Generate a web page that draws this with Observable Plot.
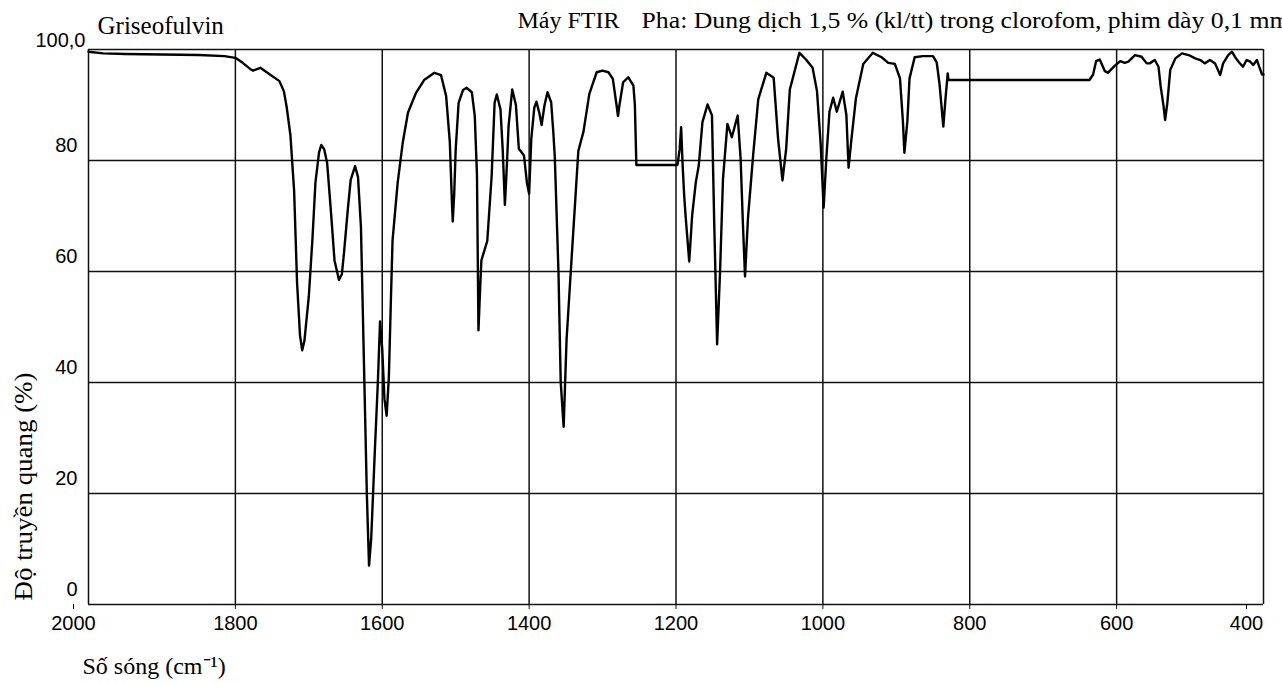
<!DOCTYPE html>
<html>
<head>
<meta charset="utf-8">
<script src="https://cdn.jsdelivr.net/npm/d3@7"></script>
<script src="https://cdn.jsdelivr.net/npm/@observablehq/plot@0.6"></script>
<style>
  html, body { margin: 0; padding: 0; background: #fff; overflow: hidden; }
  #chart svg { display: block; }
</style>
</head>
<body>
<div id="chart"></div>
<script>
// Wavenumber (cm-1), high to low
const wavenumber = [
  2000,1980,1950,1900,1850,1815,1800,1790,1780,1776,1766,1752,1740,1734,1730,1725,1720,1716,1712,1709,
  1706,1700,1695,1691,1686,1683,1679,1675,1670,1665,1659,1655,1652,1647,1643,1637,1633,1629,1625,1621,
  1618,1615,1610,1606,1603,1600,1597,1594,1591,1588,1586,1579,1572,1565,1554,1543,1529,1520,1513,1508,
  1505,1504,1502,1500,1496,1490,1485,1478,1474,1471,1469,1467,1465,1457,1451,1447,1444,1439,1436,1433,
  1430,1428,1423,1418,1414,1407,1403,1400,1397,1393,1390,1386,1383,1379,1375,1370,1367,1365,1360,1357,
  1353,1349,1342,1333,1326,1318,1308,1300,1292,1286,1281,1279,1277,1272,1265,1258,1256,1254,1198,1195,
  1193,1191,1189,1187,1182,1178,1173,1169,1164,1157,1151,1148,1144,1140,1136,1130,1124,1116,1112,1109,
  1106,1102,1095,1088,1077,1067,1061,1055,1050,1045,1032,1023,1014,1008,1003,999,995,991,986,981,
  973,968,965,961,955,945,932,920,911,902,895,891,889,885,882,875,864,850,845,841,
  836,833,830,829,637,632,628,623,616,612,603,595,589,584,575,566,559,555,548,543,
  540,536,534,531,527,520,511,502,493,486,480,473,466,459,455,448,443,439,434,428,
  423,418,414,409,405,402,400
];
// Transmittance (%) at each wavenumber
const transmittance = [
  99.6,99.3,99.2,99.1,99.0,98.8,98.5,97.6,96.5,96.2,96.7,95.4,94.3,92.5,89.5,84.5,74.5,58,48.5,45.8,
  47.5,55.5,66,76,81.5,82.8,82,79.5,71,62,58.5,59.5,63.5,71,76.5,79,77,68,44,20,
  7,12,28,40,51,46,37,34,41,56,65.5,76,83.3,88.6,92.2,94.5,95.8,95.4,91.6,83.3,
  72,69,74,82,90.4,92.7,93.1,92.3,88,77.3,49.4,56,62,65.5,77.3,90.4,91.9,89.2,82,72,
  80,86.2,92.8,90,82.1,80.9,76,74,84,89.5,90.6,88.5,86.4,90,92.3,90.5,85,80.5,59.7,40.1,
  32,47.8,62.7,81.7,85.2,92,95.9,96.2,95.9,94.7,90,88,90,94.1,95,93.5,90,79.2,79.2,82,
  86,79.3,74,70.1,61.8,70.1,76.1,79.1,86.9,90.1,88.1,69,46.9,60,76.7,86.6,84.2,88.1,80.3,69,
  59.1,69.6,80.9,91,95.8,94.9,83.9,76.4,82.1,92.8,99.4,98.2,96.7,92.5,83,71.5,81,88.8,91.3,88.8,
  92.4,88.2,78.7,84,91.2,97.4,99.4,98.6,97.6,97.4,94.8,87,81.4,87,94.8,98.6,98.8,98.8,97.7,93.6,
  86.1,91.2,95.7,94.5,94.5,95.5,97.9,98.2,96.1,95.8,97,97.9,97.6,97.8,99,98.7,97.5,97.5,98.1,96.9,
  93.3,89.7,87.3,90.3,96.3,98.4,99.3,99,98.4,98.1,97.5,98.1,97.5,95.4,97.5,99,99.6,98.7,97.8,96.9,
  98.1,97.8,97.2,98.1,96.6,95.5,95.5
];

const xTicks = [2000, 1800, 1600, 1400, 1200, 1000, 800, 600, 400];
const xTicksInner = [1800, 1600, 1400, 1200, 1000, 800, 600];
const yTicks = [0, 20, 40, 60, 80, 100];
const yTicksLabelled = [0, 20, 40, 60, 80];
const yTopLabel = ["100,0"];
const sampleName = ["Griseofulvin"];
const instrument = ["Máy FTIR"];
const phase = ["Pha: Dung dịch 1,5 % (kl/tt) trong clorofom, phim dày 0,1 mm"];
const xTitle = ["Số sóng (cm⁻¹)"];
const yTitle = ["Độ truyền quang (%)"];

const data = wavenumber.map((w, i) => ({w, t: transmittance[i]}));

const serif = "'Liberation Serif', 'Times New Roman', serif";
const sans = "'Liberation Sans', Arial, sans-serif";

const chart = Plot.plot({
  width: 1282,
  height: 683,
  marginTop: 49,
  marginBottom: 79,
  marginLeft: 88,
  marginRight: 19,
  x: {domain: [2000, 400]},
  y: {domain: [0, 100]},
  style: {background: "#fff", color: "#000", fontFamily: sans, overflow: "hidden"},
  marks: [
    Plot.ruleX(xTicks, {stroke: "#111", strokeWidth: 1.5}),
    Plot.ruleY(yTicks, {stroke: "#111", strokeWidth: 1.5}),
    Plot.line(data, {x: "w", y: "t", stroke: "#000", strokeWidth: 2.4, strokeLinejoin: "round"}),
    Plot.axisX(xTicksInner, {tickSize: 5, tickPadding: 6, fontSize: 20, fontFamily: sans, tickFormat: d => String(d), label: null, stroke: "#111"}),
    Plot.axisX([2000], {tickSize: 5, tickPadding: 6, fontSize: 20, fontFamily: sans, tickFormat: d => String(d), label: null, dx: -15}),
    Plot.axisX([400], {tickSize: 5, tickPadding: 6, fontSize: 20, fontFamily: sans, tickFormat: d => String(d), label: null, dx: -17}),
    Plot.axisY(yTicksLabelled, {tickSize: 0, tickPadding: 11, fontSize: 20, fontFamily: sans, dy: -15, label: null, tickFormat: d => String(d)}),
    Plot.text(yTopLabel, {frameAnchor: "top-left", textAnchor: "end", dx: -3, dy: -17, fontSize: 20, fontFamily: sans}),
    Plot.text(sampleName, {frameAnchor: "top-left", textAnchor: "start", lineAnchor: "bottom", dx: 9, dy: -16, fontSize: 25, fontFamily: serif}),
    Plot.text(instrument, {frameAnchor: "top-left", textAnchor: "start", lineAnchor: "bottom", dx: 429, dy: -22, fontSize: 24, fontFamily: serif}),
    Plot.text(phase, {frameAnchor: "top-left", textAnchor: "start", lineAnchor: "bottom", dx: 553, dy: -22, fontSize: 24, fontFamily: serif}),
    Plot.text(xTitle, {frameAnchor: "bottom-left", textAnchor: "start", lineAnchor: "bottom", dx: -6, dy: 69, fontSize: 24, fontFamily: serif}),
    Plot.text(yTitle, {frameAnchor: "bottom-left", textAnchor: "middle", lineAnchor: "bottom", rotate: -90, dx: -57, dy: -118, fontSize: 25, fontFamily: serif})
  ]
});

// stretch two long labels to the widths they have in the scanned original
const svg = d3.select(chart);
svg.selectAll("text").each(function () {
  const s = this.textContent;
  if (s.startsWith("Pha:")) d3.select(this).attr("textLength", 648).attr("lengthAdjust", "spacingAndGlyphs");
  if (s.startsWith("Độ")) d3.select(this).attr("textLength", 228).attr("lengthAdjust", "spacingAndGlyphs");
});

document.getElementById("chart").append(chart);
</script>
</body>
</html>
